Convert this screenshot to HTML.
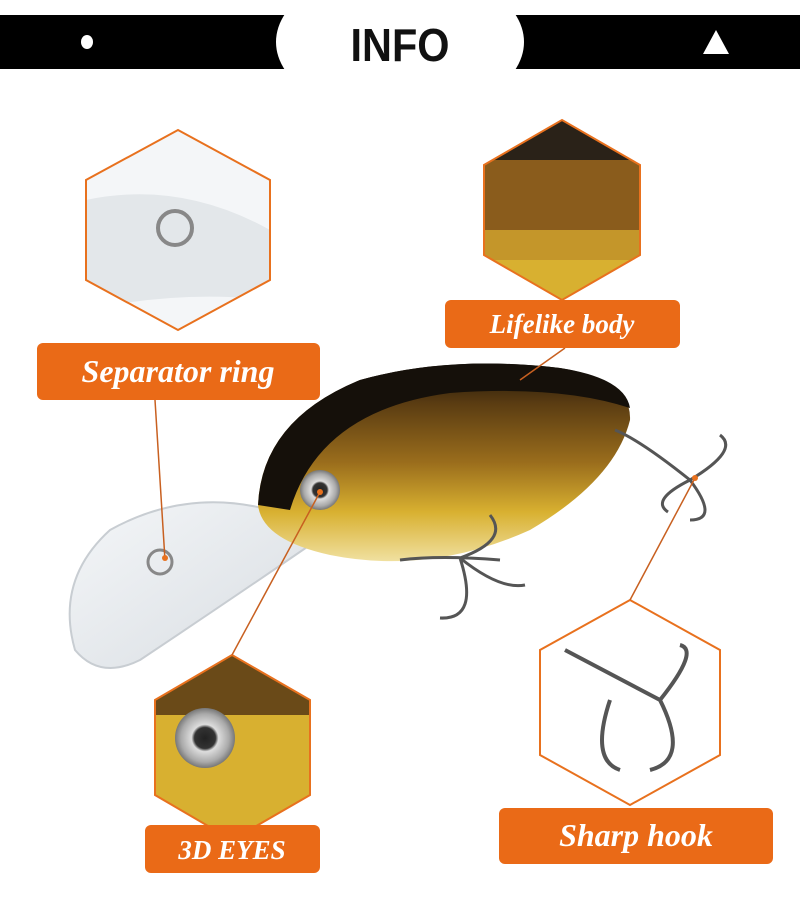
<!DOCTYPE html>
<html><head><style>
body{margin:0;background:#fff;}
svg{display:block}
.lbl{font-family:"Liberation Serif",serif;font-style:italic;font-weight:bold;fill:#fff}
</style></head><body>
<svg width="800" height="899" viewBox="0 0 800 899" xmlns="http://www.w3.org/2000/svg">
<defs>
<linearGradient id="body" x1="0" y1="0" x2="0" y2="1">
<stop offset="0" stop-color="#1a1208"/><stop offset="0.2" stop-color="#5a3c12"/>
<stop offset="0.5" stop-color="#9a6d1c"/><stop offset="0.75" stop-color="#d8b030"/><stop offset="1" stop-color="#f0e0a0"/>
</linearGradient>
<linearGradient id="lip" x1="0" y1="0" x2="1" y2="1">
<stop offset="0" stop-color="#f4f6f8"/><stop offset="1" stop-color="#d8dde2"/>
</linearGradient>
<radialGradient id="eye"><stop offset="0" stop-color="#222"/><stop offset="0.35" stop-color="#333"/><stop offset="0.45" stop-color="#ddd"/><stop offset="0.8" stop-color="#aaa"/><stop offset="1" stop-color="#777"/></radialGradient>
<clipPath id="h1"><polygon points="178,130 270,180 270,280 178,330 86,280 86,180"/></clipPath>
<clipPath id="h2"><polygon points="562,120 640,165 640,255 562,300 484,255 484,165"/></clipPath>
<clipPath id="h3"><polygon points="232,655 310,700 310,795 232,840 155,795 155,700"/></clipPath>
</defs>
<rect x="0" y="15" width="800" height="54" fill="#000"/>
<ellipse cx="400" cy="42" rx="124" ry="75" fill="#fff"/>
<rect x="0" y="0" width="800" height="15" fill="#fff"/>
<rect x="0" y="69" width="800" height="40" fill="#fff"/>
<ellipse cx="87" cy="42" rx="6" ry="7" fill="#fff"/>
<polygon points="716,30 729,54 703,54" fill="#fff"/>
<text x="400" y="61" text-anchor="middle" font-family="Liberation Sans,sans-serif" font-weight="bold" font-size="46" fill="#111" transform="translate(400 0) scale(0.9 1) translate(-400 0)">INFO</text>

<g clip-path="url(#h1)"><rect x="86" y="130" width="184" height="200" fill="#f4f6f8"/>
<path d="M86,200 Q180,180 270,230 L270,300 Q180,290 86,310Z" fill="#e3e7ea"/>
<circle cx="175" cy="228" r="17" fill="none" stroke="#888" stroke-width="4"/></g>
<polygon points="178,130 270,180 270,280 178,330 86,280 86,180" fill="none" stroke="#e8711e" stroke-width="2"/>
<g clip-path="url(#h2)"><rect x="484" y="120" width="156" height="180" fill="#d8b030"/>
<rect x="484" y="120" width="156" height="40" fill="#2a2218"/>
<rect x="484" y="160" width="156" height="70" fill="#8a5c1c"/>
<rect x="484" y="230" width="156" height="30" fill="#c4962a"/></g>
<polygon points="562,120 640,165 640,255 562,300 484,255 484,165" fill="none" stroke="#e8711e" stroke-width="2"/>
<g clip-path="url(#h3)"><rect x="155" y="655" width="155" height="185" fill="#d8b030"/>
<rect x="155" y="655" width="155" height="60" fill="#6a4a18"/>
<circle cx="205" cy="738" r="30" fill="url(#eye)"/></g>
<polygon points="232,655 310,700 310,795 232,840 155,795 155,700" fill="none" stroke="#e8711e" stroke-width="2"/>
<polygon points="630,600 720,650 720,755 630,805 540,755 540,650" fill="#fff" stroke="#e8711e" stroke-width="2"/>
<path d="M565,650 L660,700 M660,700 Q700,650 680,645 M660,700 Q690,760 650,770 M610,700 Q590,760 620,770" fill="none" stroke="#555" stroke-width="4"/>

<path d="M300,520 Q200,480 110,530 Q55,580 75,650 Q100,680 140,660 Q230,600 310,545Z" fill="url(#lip)" stroke="#c8cdd2" stroke-width="2"/>
<circle cx="160" cy="562" r="12" fill="none" stroke="#888" stroke-width="3"/>
<path d="M258,505 Q262,420 360,380 Q450,355 560,368 Q632,380 630,420 Q615,480 530,530 Q430,575 330,555 Q262,540 258,505Z" fill="url(#body)"/>
<path d="M258,505 Q262,420 360,380 Q450,355 560,368 Q625,378 630,408 Q560,385 450,393 Q320,410 290,510Z" fill="#15100a"/>
<circle cx="320" cy="490" r="20" fill="url(#eye)"/>
<path d="M615,430 Q640,440 690,480 M690,480 Q740,450 720,435 M690,480 Q720,520 690,520 M690,480 Q650,500 668,512" fill="none" stroke="#555" stroke-width="3"/>
<path d="M400,560 Q440,555 500,560 M460,558 Q510,540 490,515 M460,558 Q480,620 440,618 M460,558 Q500,590 525,585" fill="none" stroke="#555" stroke-width="3"/>

<line x1="155" y1="400" x2="165" y2="560" stroke="#c86020" stroke-width="1.5"/>
<line x1="565" y1="348" x2="520" y2="380" stroke="#c86020" stroke-width="1.5"/>
<line x1="232" y1="655" x2="320" y2="492" stroke="#c86020" stroke-width="1.5"/>
<line x1="630" y1="600" x2="695" y2="478" stroke="#c86020" stroke-width="1.5"/>
<circle cx="320" cy="492" r="3" fill="#e8711e"/><circle cx="695" cy="478" r="3" fill="#e8711e"/><circle cx="165" cy="558" r="3" fill="#e8711e"/>

<rect x="37" y="343" width="283" height="57" rx="6" fill="#ea6a17"/>
<text x="178" y="382" text-anchor="middle" class="lbl" font-size="32">Separator ring</text>
<rect x="445" y="300" width="235" height="48" rx="6" fill="#ea6a17"/>
<text x="562" y="333" text-anchor="middle" class="lbl" font-size="27">Lifelike body</text>
<rect x="145" y="825" width="175" height="48" rx="6" fill="#ea6a17"/>
<text x="232" y="859" text-anchor="middle" class="lbl" font-size="27">3D EYES</text>
<rect x="499" y="808" width="274" height="56" rx="6" fill="#ea6a17"/>
<text x="636" y="846" text-anchor="middle" class="lbl" font-size="32">Sharp hook</text>
</svg>
</body></html>
